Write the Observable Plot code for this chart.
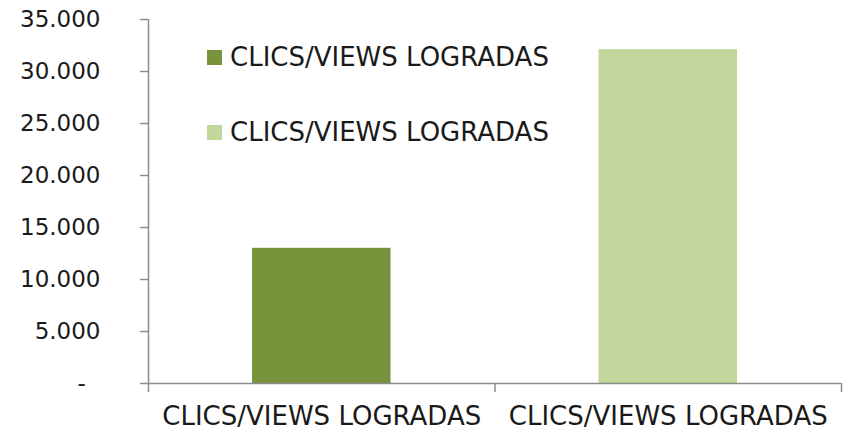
<!DOCTYPE html>
<html>
<head>
<meta charset="utf-8">
<script src="https://cdn.jsdelivr.net/npm/d3@7"></script>
<script src="https://cdn.jsdelivr.net/npm/@observablehq/plot@0.6"></script>
<style>
  html, body { margin: 0; padding: 0; background: #fff; }
  #wrap { position: relative; width: 850px; height: 433px; }
  .legend { position: absolute; left: 207px; font-family: "DejaVu Sans", sans-serif; font-size: 26px; color: #1a1a1a; display: flex; align-items: center; white-space: nowrap; }
  .legend .sw { width: 15px; height: 15px; margin-right: 8px; }
</style>
</head>
<body>
<div id="wrap"></div>
<script>
const categories = ["CLICS/VIEWS LOGRADAS", "CLICS/VIEWS LOGRADAS"];
const seriesNames = ["CLICS/VIEWS LOGRADAS", "CLICS/VIEWS LOGRADAS"];
const values = [13000, 32100];
const colors = ["#77933c", "#c3d69b"];
const yTicks = [0, 5000, 10000, 15000, 20000, 25000, 30000, 35000];

const data = categories.map((c, i) => ({i, category: c, value: values[i], color: colors[i]}));
const fmt = d => d === 0 ? "-\u00a0\u00a0" : d3.format(",")(d).replace(/,/g, ".");

const axisColor = "#8c8c8c";
const textColor = "#1a1a1a";

const chart = Plot.plot({
  width: 850,
  height: 433,
  marginLeft: 148,
  marginRight: 9,
  marginTop: 19,
  marginBottom: 50,
  style: {fontFamily: "DejaVu Sans, sans-serif", fontSize: "23px", color: textColor, background: "#fff"},
  x: {type: "linear", domain: [0, categories.length]},
  y: {domain: [0, 35000]},
  marks: [
    Plot.rectY(data, {x1: "i", x2: d => d.i + 1, y: "value", fill: "color", insetLeft: 104, insetRight: 104}),
    Plot.ruleX([0], {stroke: axisColor, strokeWidth: 1.5}),
    Plot.ruleY([0], {stroke: axisColor, strokeWidth: 1.5}),
    Plot.axisY({ticks: yTicks, tickSize: 8, tickPadding: 40, tickFormat: fmt, stroke: axisColor, fill: textColor, strokeWidth: 1.5, fontSize: 23, label: null}),
    Plot.axisX({ticks: d3.range(categories.length + 1), tickSize: 9, tickFormat: () => "", stroke: axisColor, strokeWidth: 1.5, label: null}),
    Plot.axisX({ticks: categories.map((c, i) => i + 0.5), tickSize: 0, tickPadding: 23, tickFormat: d => categories[Math.floor(d)], fill: textColor, fontSize: 26, label: null})
  ]
});

const wrap = document.getElementById("wrap");
wrap.appendChild(chart);

const legendCenters = [57, 132];
seriesNames.forEach((name, i) => {
  const item = document.createElement("div");
  item.className = "legend";
  item.style.top = (legendCenters[i] - 15) + "px";
  item.style.height = "30px";
  const sw = document.createElement("span");
  sw.className = "sw";
  sw.style.background = colors[i];
  const label = document.createElement("span");
  label.textContent = name;
  item.appendChild(sw);
  item.appendChild(label);
  wrap.appendChild(item);
});
</script>
</body>
</html>
